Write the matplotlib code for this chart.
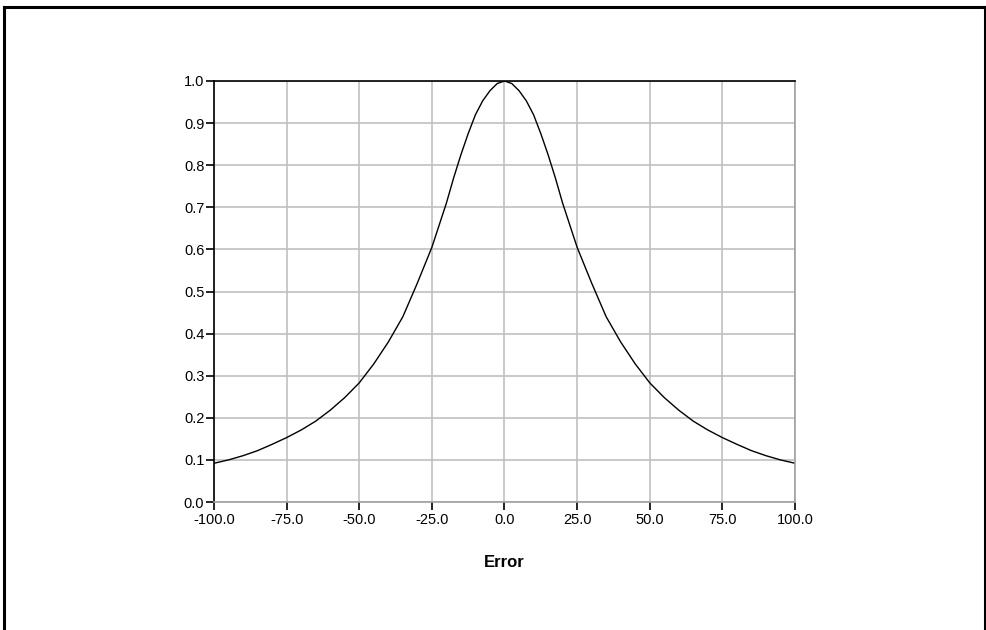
import numpy as np
import matplotlib
matplotlib.use("Agg")
from matplotlib import pyplot as plt
from matplotlib.lines import Line2D

# curve (symmetric around 0)
err_x = [-100, -95, -90, -85, -80, -75, -70, -65, -60, -55, -50, -45, -40, -35, -30,
         -25, -20, -17.5, -15, -12.5, -10, -7.5, -5, -2.5, 0,
         2.5, 5, 7.5, 10, 12.5, 15, 17.5, 20, 25, 30, 35, 40, 45, 50, 55, 60,
         65, 70, 75, 80, 85, 90, 95, 100]
half = [0.092, 0.100, 0.110, 0.122, 0.137, 0.153, 0.171, 0.192, 0.218, 0.248, 0.283,
        0.328, 0.380, 0.440, 0.520, 0.605, 0.710, 0.770, 0.825, 0.875, 0.920,
        0.953, 0.977, 0.994]
err_y = half + [1.0] + half[::-1]

x_ticks = [-100, -75, -50, -25, 0, 25, 50, 75, 100]
y_ticks = [0.0, 0.1, 0.2, 0.3, 0.4, 0.5, 0.6, 0.7, 0.8, 0.9, 1.0]

plt.rcParams['font.family'] = ['Liberation Sans Narrow', 'Liberation Sans', 'DejaVu Sans']

fig = plt.figure(figsize=(9.87, 6.3), dpi=100)
ax = fig.add_axes([214/987, 1 - 502/630, 581/987, 421/630])

ax.plot(err_x, err_y, color="black", lw=1.0)

ax.set_xlim(-100, 100)
ax.set_ylim(0, 1.0)
ax.set_xticks(x_ticks)
ax.set_yticks(y_ticks)
ax.set_xticklabels(["%.1f" % v for v in x_ticks], fontsize=10.5)
ax.set_yticklabels(["%.1f" % v for v in y_ticks], fontsize=10.5)
ax.grid(True, color="#c0c0c0", lw=1.2)
ax.set_axisbelow(True)
ax.tick_params(axis="both", direction="out", length=6, width=1.2, color="black", pad=1)
ax.tick_params(axis="x", pad=2)

ax.spines["top"].set_color("black")
ax.spines["left"].set_color("black")
ax.spines["right"].set_color("#a0a0a0")
ax.spines["bottom"].set_color("#a0a0a0")
for s in ax.spines.values():
    s.set_linewidth(1.2)

ax.set_xlabel("Error", fontsize=12, fontweight="bold", labelpad=20,
              family=["Liberation Sans", "DejaVu Sans"])

# outer frame (no bottom edge)
kw = dict(color="black", lw=2.2, transform=fig.transFigure)
fig.add_artist(Line2D([4/987, 4/987], [0, 1 - 7/630], **kw))
fig.add_artist(Line2D([985/987, 985/987], [0, 1 - 7/630], **kw))
fig.add_artist(Line2D([4/987, 985/987], [1 - 7/630, 1 - 7/630], **kw))

fig.savefig("out.png", dpi=100)
